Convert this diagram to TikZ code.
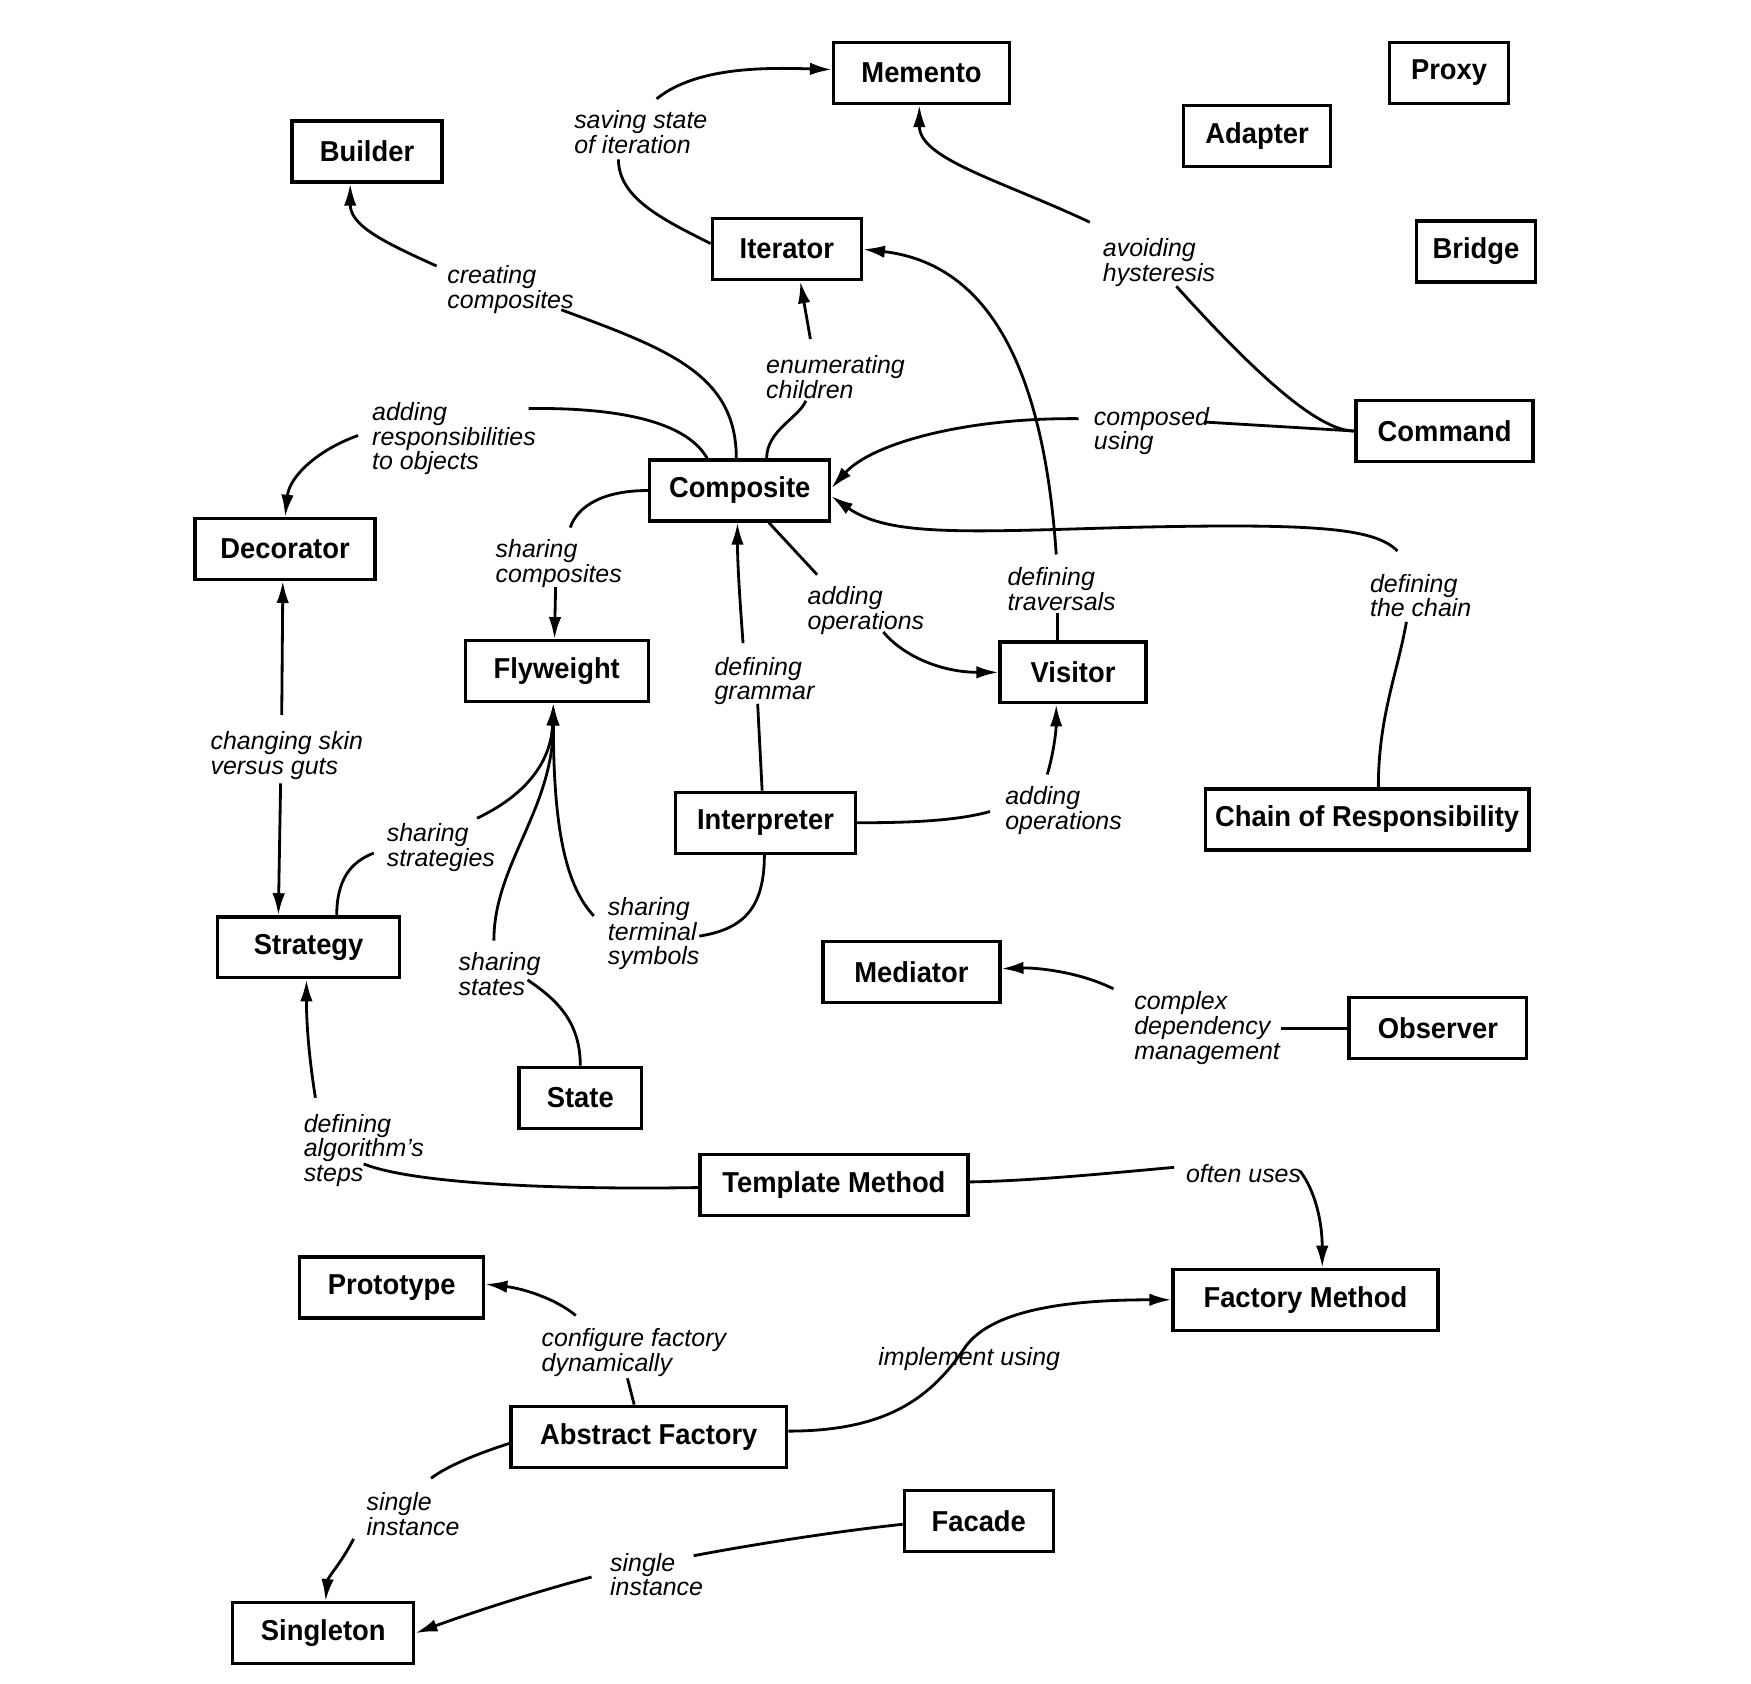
\documentclass[tikz,border=0pt]{standalone}
\usepackage{fontspec}
\newfontfamily\patternfont{Liberation Sans}[FakeStretch=0.95]
\newfontfamily\notefont{Liberation Sans}
\usetikzlibrary{arrows.meta}
\begin{document}
\begin{tikzpicture}[x=0.011224cm, y=-0.011224cm]
\tikzstyle{patternStyle}=[draw, line width=0.95pt, minimum height=0.61cm, inner sep=0pt, font=\patternfont\bfseries\fontsize{8.2}{9}\selectfont]
\tikzstyle{noteStyle}=[anchor=north west, inner sep=0pt, align=left, font=\notefont\itshape\fontsize{7.1}{7}\selectfont]
\tikzstyle{linkStyle}=[line width=0.8pt]
\tikzstyle{usesStyle}=[linkStyle, -{Latex[length=2.2mm, width=1.25mm]}]
\useasboundingbox (0,0) rectangle (1560,1500);
\node[patternStyle, minimum width=1.76cm] (memento) at (821,65) {Memento};
\node[patternStyle, minimum width=1.19cm] (proxy) at (1291,65) {Proxy};
\node[patternStyle, minimum width=1.50cm] (builder) at (327,135) {Builder};
\node[patternStyle, minimum width=1.47cm] (adapter) at (1120,121) {Adapter};
\node[patternStyle, minimum width=1.49cm] (iterator) at (701,222) {Iterator};
\node[patternStyle, minimum width=1.19cm] (bridge) at (1315,224) {Bridge};
\node[patternStyle, minimum width=1.77cm] (command) at (1287,384) {Command};
\node[patternStyle, minimum width=1.80cm] (composite) at (659,437) {Composite};
\node[patternStyle, minimum width=1.80cm] (decorator) at (254,489) {Decorator};
\node[patternStyle, minimum width=1.83cm] (flyweight) at (496,598) {Flyweight};
\node[patternStyle, minimum width=1.46cm] (visitor) at (956,599) {Visitor};
\node[patternStyle, minimum width=1.80cm] (interpreter) at (682,733) {Interpreter};
\node[patternStyle, minimum width=3.24cm] (chain) at (1218,730) {Chain of Responsibility};
\node[patternStyle, minimum width=1.82cm] (strategy) at (275,844) {Strategy};
\node[patternStyle, minimum width=1.77cm] (mediator) at (812,866) {Mediator};
\node[patternStyle, minimum width=1.78cm] (observer) at (1281,916) {Observer};
\node[patternStyle, minimum width=1.23cm] (state) at (517,978) {State};
\node[patternStyle, minimum width=2.68cm] (template) at (743,1056) {Template Method};
\node[patternStyle, minimum width=1.84cm] (prototype) at (349,1147) {Prototype};
\node[patternStyle, minimum width=2.65cm] (factory) at (1163,1158) {Factory Method};
\node[patternStyle, minimum width=2.76cm] (abstract) at (578,1280) {Abstract Factory};
\node[patternStyle, minimum width=1.49cm] (facade) at (872,1355) {Facade};
\node[patternStyle, minimum width=1.81cm] (singleton) at (288,1455) {Singleton};
\node[noteStyle] (savingState) at (511,98) {saving state\\of iteration};
\node[noteStyle] (creatingComposites) at (398,236) {creating\\composites};
\node[noteStyle] (enumeratingChildren) at (682,316) {enumerating\\children};
\node[noteStyle] (avoidingHysteresis) at (982,212) {avoiding\\hysteresis};
\node[noteStyle] (addingResponsibilities) at (331,358) {adding\\responsibilities\\to objects};
\node[noteStyle] (composedUsing) at (974,362) {composed\\using};
\node[noteStyle] (sharingComposites) at (441,480) {sharing\\composites};
\node[noteStyle] (addingOperationsA) at (719,522) {adding\\operations};
\node[noteStyle] (definingTraversals) at (897,505) {defining\\traversals};
\node[noteStyle] (definingChain) at (1220,511) {defining\\the chain};
\node[noteStyle] (definingGrammar) at (636,585) {defining\\grammar};
\node[noteStyle] (changingSkin) at (187,651) {changing skin\\versus guts};
\node[noteStyle] (addingOperationsB) at (895,700) {adding\\operations};
\node[noteStyle] (sharingStrategies) at (344,733) {sharing\\strategies};
\node[noteStyle] (sharingSymbols) at (541,799) {sharing\\terminal\\symbols};
\node[noteStyle] (sharingStates) at (408,848) {sharing\\states};
\node[noteStyle] (complexDependency) at (1010,883) {complex\\dependency\\management};
\node[noteStyle] (definingSteps) at (270,992) {defining\\algorithm’s\\steps};
\node[noteStyle] (oftenUses) at (1056,1037) {often uses};
\node[noteStyle] (configureFactory) at (482,1183) {configure factory\\dynamically};
\node[noteStyle] (implementUsing) at (782,1200) {implement using};
\node[noteStyle] (singleInstanceA) at (326,1329) {single\\instance};
\node[noteStyle] (singleInstanceB) at (543,1383) {single\\instance};
\coordinate (chainBend) at (1000,470);
\coordinate (implementBend) at (860,1200);
\draw[linkStyle] ([shift={(0,-5)}]iterator.west) .. controls +(-44,-22) and +(0,34) .. ([shift={(40,44)}]savingState.north west);
\draw[usesStyle] ([shift={(74,-10)}]savingState.north west) .. controls +(35,-28) and +(-62,-2) .. ([shift={(0,-3)}]memento.west);
\draw[linkStyle] ([shift={(-3,0)}]composite.north) .. controls +(0,-75) and +(95,35) .. ([shift={(102,40)}]creatingComposites.north west);
\draw[usesStyle] ([shift={(-9,1)}]creatingComposites.north west) .. controls +(-49,-22) and +(0,37) .. ([shift={(-15,0)}]builder.south);
\draw[linkStyle] ([shift={(24,0)}]composite.north) .. controls +(0,-25) and +(-6,15) .. ([shift={(36,41)}]enumeratingChildren.north west);
\draw[usesStyle] ([shift={(40,-14)}]enumeratingChildren.north west) -- ([shift={(12,0)}]iterator.south);
\draw[linkStyle] (command.west) .. controls +(-25,0) and +(90,100) .. ([shift={(66,43)}]avoidingHysteresis.north west);
\draw[usesStyle] ([shift={(-11,-14)}]avoidingHysteresis.north west) .. controls +(-81,-38) and +(0,48) .. ([shift={(-2,0)}]memento.south);
\draw[linkStyle] (command.west) -- ([shift={(99,14)}]composedUsing.north west);
\draw[usesStyle] ([shift={(-13,11)}]composedUsing.north west) .. controls +(-101,-1) and +(36,-40) .. ([shift={(0,-2)}]composite.east);
\draw[linkStyle] ([shift={(-29,0)}]composite.north) .. controls +(-20,-36) and +(69,-1) .. ([shift={(140,6)}]addingResponsibilities.north west);
\draw[usesStyle] ([shift={(-12,30)}]addingResponsibilities.north west) .. controls +(-34,12) and +(4,-37) .. (decorator.north);
\draw[linkStyle] (composite.west) .. controls +(-39,0) and +(7,-20) .. ([shift={(67,-10)}]sharingComposites.north west);
\draw[usesStyle] ([shift={(54,43)}]sharingComposites.north west) -- ([shift={(-2,0)}]flyweight.north);
\draw[linkStyle] ([shift={(26,0)}]composite.south) -- ([shift={(9,-10)}]addingOperationsA.north west);
\draw[usesStyle] ([shift={(68,41)}]addingOperationsA.north west) .. controls +(18,22) and +(-50,0) .. (visitor.west);
\draw[linkStyle] ([shift={(-14,0)}]visitor.north) -- ([shift={(45,41)}]definingTraversals.north west);
\draw[usesStyle] ([shift={(44,-11)}]definingTraversals.north west) .. controls +(-11,-164) and +(113,13) .. (iterator.east);
\draw[linkStyle] ([shift={(10,0)}]chain.north) .. controls +(0,-63) and +(-8,46) .. ([shift={(33,43)}]definingChain.north west);
\draw[usesStyle] ([shift={(25,-20)}]definingChain.north west) .. controls +(-20,-21) and +(170,-4) .. (chainBend) .. controls +(-140,4) and +(51,36) .. ([shift={(0,5)}]composite.east);
\draw[linkStyle] ([shift={(-3,0)}]interpreter.north) -- ([shift={(39,42)}]definingGrammar.north west);
\draw[usesStyle] ([shift={(26,-12)}]definingGrammar.north west) .. controls +(-3,-40) and +(0,35) .. ([shift={(-2,0)}]composite.south);
\draw[linkStyle] (interpreter.east) .. controls +(40,0) and +(-32,9) .. ([shift={(-13,23)}]addingOperationsB.north west);
\draw[usesStyle] ([shift={(38,-10)}]addingOperationsB.north west) .. controls +(6,-20) and +(0,22) .. ([shift={(-15,0)}]visitor.south);
\draw[usesStyle] ([shift={(64,-14)}]changingSkin.north west) -- ([shift={(-2,0)}]decorator.south);
\draw[usesStyle] ([shift={(63,47)}]changingSkin.north west) -- ([shift={(-27,0)}]strategy.north);
\draw[linkStyle] ([shift={(25,0)}]strategy.north) .. controls +(0,-31) and +(-21,8) .. ([shift={(-11,27)}]sharingStrategies.north west);
\draw[usesStyle] ([shift={(81,-4)}]sharingStrategies.north west) .. controls +(40,-19) and +(-2,55) .. ([shift={(-3,0)}]flyweight.south);
\draw[linkStyle] (state.north) .. controls +(0,-40) and +(25,17) .. ([shift={(62,25)}]sharingStates.north west);
\draw[usesStyle] ([shift={(32,-10)}]sharingStates.north west) .. controls +(0,-68) and +(0,95) .. ([shift={(-3,0)}]flyweight.south);
\draw[linkStyle] ([shift={(-1,0)}]interpreter.south) .. controls +(0,50) and +(37,-6) .. ([shift={(82,35)}]sharingSymbols.north west);
\draw[usesStyle] ([shift={(-12,17)}]sharingSymbols.north west) .. controls +(-24,-26) and +(0,115) .. ([shift={(-3,0)}]flyweight.south);
\draw[linkStyle] (observer.west) -- ([shift={(131,33)}]complexDependency.north west);
\draw[usesStyle] ([shift={(-18,-2)}]complexDependency.north west) .. controls +(-32,-16) and +(29,-1) .. ([shift={(0,-3)}]mediator.east);
\draw[linkStyle] ([shift={(0,2)}]template.west) .. controls +(-124,2) and +(46,18) .. ([shift={(54,45)}]definingSteps.north west);
\draw[usesStyle] ([shift={(11,-14)}]definingSteps.north west) .. controls +(-6,-38) and +(0,38) .. ([shift={(-2,0)}]strategy.south);
\draw[linkStyle] ([shift={(0,-3)}]template.east) .. controls +(57,-1) and +(-56,5) .. ([shift={(-10,3)}]oftenUses.north west);
\draw[usesStyle] ([shift={(102,6)}]oftenUses.north west) .. controls +(14,18) and +(0,-40) .. ([shift={(15,0)}]factory.north);
\draw[linkStyle] ([shift={(-13,0)}]abstract.north) -- ([shift={(77,45)}]configureFactory.north west);
\draw[usesStyle] ([shift={(31,-11)}]configureFactory.north west) .. controls +(-18,-15) and +(34,4) .. ([shift={(0,-3)}]prototype.east);
\draw[usesStyle] ([shift={(0,-5)}]abstract.east) .. controls +(88,0) and +(-30,45) .. (implementBend) .. controls +(25,-35) and +(-85,0) .. (factory.west);
\draw[linkStyle] ([shift={(0,6)}]abstract.west) .. controls +(-25,8) and +(16,-12) .. ([shift={(58,-12)}]singleInstanceA.north west);
\draw[usesStyle] ([shift={(-11,42)}]singleInstanceA.north west) .. controls +(-10,20) and +(2,-21) .. ([shift={(2,0)}]singleton.north);
\draw[linkStyle] ([shift={(0,3)}]facade.west) .. controls +(-66,7) and +(42,-8) .. ([shift={(75,3)}]singleInstanceB.north west);
\draw[usesStyle] ([shift={(-16,22)}]singleInstanceB.north west) .. controls +(-57,15) and +(41,-15) .. (singleton.east);
\end{tikzpicture}
\end{document}
